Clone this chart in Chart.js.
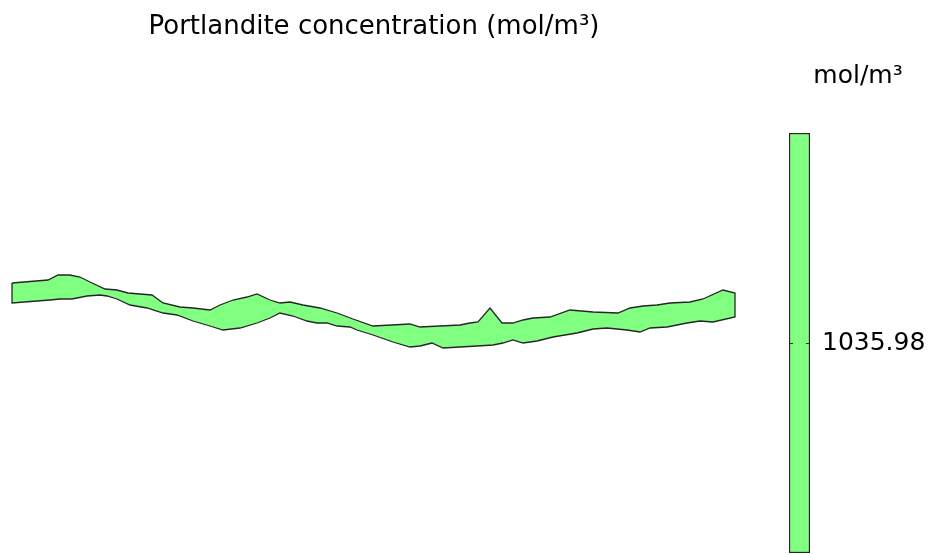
<!DOCTYPE html>
<html>
<head>
<meta charset="utf-8">
<title>Portlandite concentration</title>
<script src="https://cdn.jsdelivr.net/npm/chart.js@4/dist/chart.umd.min.js"></script>
<style>
  html, body { margin: 0; padding: 0; background: #ffffff; }
  #wrap { position: relative; width: 935px; height: 555px; }
  #wrap canvas { position: absolute; left: 0; top: 0; }
</style>
</head>
<body>
<div id="wrap">
  <canvas id="domain" width="935" height="555"></canvas>
  <canvas id="legend" width="935" height="555"></canvas>
</div>
<script>
// Upper edge of the section, left to right (x, y in cm)
const upperX = [0.0, 3.6, 4.6, 5.8, 6.8, 7.8, 9.3, 10.5, 11.6, 12.8, 14.0, 15.1, 16.8, 18.1, 19.8, 20.8,
  22.1, 23.5, 24.5, 25.8, 26.8, 27.8, 29.1, 30.8, 32.5, 34.1, 36.1, 39.8, 40.8, 44.8, 45.8, 46.6, 47.8,
  49.0, 50.1, 51.1, 52.1, 53.8, 55.8, 58.1, 60.6, 61.8, 63.1, 64.5, 65.8, 67.8, 69.1, 71.1, 72.3];
const upperY = [27.2, 27.5, 28.0, 28.0, 27.8, 27.3, 26.6, 26.5, 26.2, 26.1, 26.0, 25.2, 24.8, 24.7, 24.5, 25.0,
  25.5, 25.8, 26.1, 25.5, 25.2, 25.3, 25.0, 24.7, 24.2, 23.6, 22.9, 23.1, 22.8, 23.0, 23.2, 23.3, 24.7,
  23.2, 23.2, 23.5, 23.7, 23.8, 24.5, 24.3, 24.2, 24.7, 24.9, 25.0, 25.2, 25.3, 25.6, 26.5, 26.2];

// Lower edge of the section, left to right (x, y in cm)
const lowerX = [0.0, 3.8, 4.8, 6.0, 7.5, 8.8, 9.5, 10.5, 11.8, 13.5, 15.1, 16.5, 18.1, 19.8, 21.1, 22.8,
  24.5, 25.8, 26.8, 28.1, 29.5, 30.5, 31.5, 32.5, 33.8, 34.5, 36.1, 38.1, 39.8, 40.8, 42.0, 43.1, 44.8,
  46.5, 48.1, 49.1, 50.1, 51.1, 52.5, 54.1, 56.5, 58.1, 59.5, 61.5, 62.8, 63.8, 65.5, 67.5, 68.8, 70.1, 72.3];
const lowerY = [25.2, 25.5, 25.6, 25.6, 25.9, 26.0, 25.9, 25.6, 25.0, 24.7, 24.2, 24.0, 23.4, 22.9, 22.5, 22.7,
  23.2, 23.7, 24.2, 23.9, 23.4, 23.2, 23.2, 22.9, 22.8, 22.5, 22.0, 21.3, 20.8, 20.9, 21.2, 20.7, 20.8,
  20.9, 21.0, 21.2, 21.5, 21.2, 21.4, 21.8, 22.2, 22.6, 22.7, 22.5, 22.3, 22.7, 22.8, 23.2, 23.4, 23.3, 23.8];

// Concentration (uniform over the section) and colour-bar range
const concentration = 1035.98;
const colorRange = [1035.975, 1035.985];
const colorTicks = [concentration];

const titleText = 'Portlandite concentration (mol/m\u00B3)';
const unitText = 'mol/m\u00B3';

const fillColor = '#80ff80';
const edgeColor = '#262626';

Chart.defaults.font.family = "'DejaVu Sans', sans-serif";
Chart.defaults.color = '#000000';
Chart.defaults.animation = false;

// Closed outline: upper edge left->right, lower edge right->left, back to start
const outline = [];
for (let i = 0; i < upperX.length; i++) outline.push({ x: upperX[i], y: upperY[i] });
for (let i = lowerX.length - 1; i >= 0; i--) outline.push({ x: lowerX[i], y: lowerY[i] });
outline.push({ x: upperX[0], y: upperY[0] });

new Chart(document.getElementById('domain'), {
  type: 'scatter',
  data: {
    datasets: [{
      data: outline,
      showLine: true,
      fill: 'shape',
      tension: 0,
      pointRadius: 0,
      borderWidth: 1.3,
      borderColor: edgeColor,
      backgroundColor: fillColor,
      clip: false
    }]
  },
  options: {
    responsive: false,
    devicePixelRatio: 1,
    layout: { padding: { left: 12, right: 199, top: 0, bottom: 0 } },
    plugins: {
      legend: { display: false },
      tooltip: { enabled: false },
      title: {
        display: true,
        text: titleText,
        color: '#000000',
        font: { size: 26, weight: 'normal', lineHeight: '32px' },
        padding: { top: 11, bottom: 0 }
      }
    },
    scales: {
      x: { type: 'linear', min: 0, max: 72.4, display: false },
      y: { type: 'linear', min: 0, max: 51.2, display: false }
    }
  }
});

// Short inward tick marks on both edges of the colour bar
const innerTicks = {
  id: 'innerTicks',
  afterDatasetsDraw(chart) {
    const { ctx, chartArea } = chart;
    const scale = chart.scales.y;
    ctx.save();
    ctx.strokeStyle = edgeColor;
    ctx.lineWidth = 1;
    colorTicks.forEach(v => {
      const py = Math.round(scale.getPixelForValue(v)) + 0.5;
      ctx.beginPath();
      ctx.moveTo(chartArea.left, py);
      ctx.lineTo(chartArea.left + 4, py);
      ctx.moveTo(chartArea.right - 4, py);
      ctx.lineTo(chartArea.right, py);
      ctx.stroke();
    });
    ctx.restore();
  }
};

new Chart(document.getElementById('legend'), {
  type: 'bar',
  data: {
    labels: [''],
    datasets: [{
      data: [colorRange],
      backgroundColor: fillColor,
      borderColor: edgeColor,
      borderWidth: 1.5,
      borderSkipped: false,
      barPercentage: 1,
      categoryPercentage: 1
    }]
  },
  options: {
    responsive: false,
    devicePixelRatio: 1,
    layout: { padding: { left: 789, right: 8, top: 0, bottom: 2 } },
    plugins: {
      legend: { display: false },
      tooltip: { enabled: false },
      title: {
        display: true,
        text: unitText,
        color: '#000000',
        font: { size: 25, weight: 'normal', lineHeight: '32px' },
        padding: { top: 60, bottom: 41 }
      }
    },
    scales: {
      x: { display: false },
      y: {
        position: 'right',
        min: colorRange[0],
        max: colorRange[1],
        grid: { display: false, drawTicks: false },
        border: { display: false },
        afterBuildTicks(scale) { scale.ticks = colorTicks.map(v => ({ value: v })); },
        afterFit(scale) {
          scale.width = 117;
          scale.paddingTop = 0;
          scale.paddingBottom = 0;
        },
        ticks: {
          padding: 12,
          color: '#000000',
          font: { size: 25 },
          callback: v => Number(v).toFixed(2)
        }
      }
    }
  },
  plugins: [innerTicks]
});
</script>
</body>
</html>
